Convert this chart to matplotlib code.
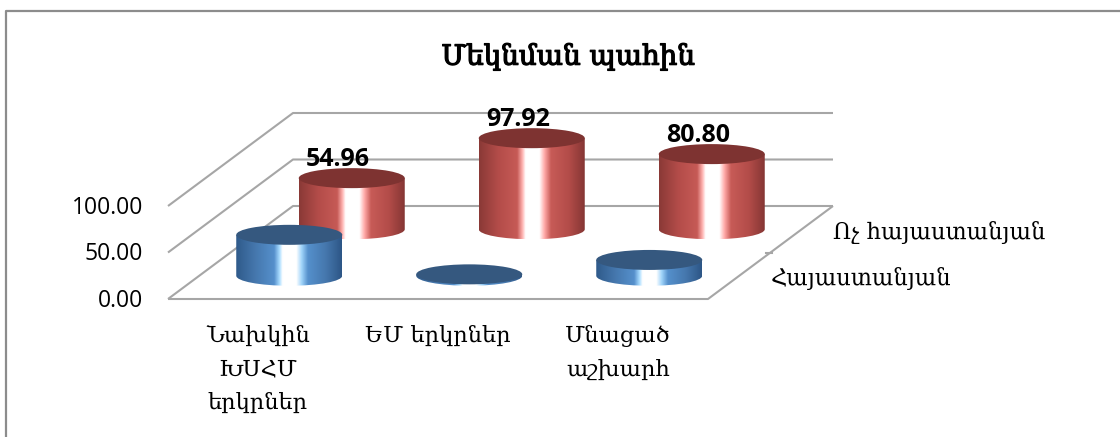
import numpy as np
import matplotlib
matplotlib.use("Agg")
import matplotlib.pyplot as plt
import matplotlib.patheffects as pe
from matplotlib.colors import LinearSegmentedColormap
from matplotlib.patches import Ellipse, PathPatch
from matplotlib.path import Path

title = "Մեկնման պահին"
categories = ["Նախկին\nԽՍՀՄ\nերկրներ", "ԵՄ երկրներ", "Մնացած\nաշխարհ"]
series_names = ["Հայաստանյան", "Ոչ հայաստանյան"]
armenian = [44.0, 1.5, 17.0]
non_armenian = [54.96, 97.92, 80.80]
y_ticks = [0, 50, 100]

ARM_FONT = ["DejaVu Serif", "DejaVu Sans"]
NUM_FONT = "Open Sans"

# oblique projection, all in pixels of the 1120x437 picture
X0, Y0 = 168, 299
CAT_W = 180
DEPTH_X, DEPTH_Y = 125, -93
PX_PER_UNIT = 0.93
R_X, R_Y = 53, 10


def project(cat, depth, value=0):
    return X0 + cat * CAT_W + depth * DEPTH_X, Y0 + depth * DEPTH_Y - value * PX_PER_UNIT


red_cmap = LinearSegmentedColormap.from_list("red3d", [
    (0, "#8a3936"), (0.18, "#b34c49"), (0.36, "#c65a56"), (0.41, "#ffb4b2"), (0.44, "#ffffff"),
    (0.57, "#ffffff"), (0.62, "#ffa8a6"), (0.68, "#c75b57"), (0.85, "#b34c49"), (1, "#853634")])
blue_cmap = LinearSegmentedColormap.from_list("blue3d", [
    (0, "#2f5a8a"), (0.18, "#4577ad"), (0.36, "#5590cc"), (0.41, "#a8dcff"), (0.44, "#ffffff"),
    (0.57, "#ffffff"), (0.62, "#a0d4fa"), (0.68, "#5590cc"), (0.85, "#4577ad"), (1, "#2d5686")])


def cylinder(ax, cat, depth, value, cmap, top_color):
    cx, by = project(cat + 0.5, depth)
    ty = by - value * PX_PER_UNIT
    k = 0.5523
    verts = [(cx - R_X, ty), (cx - R_X, by),
             (cx - R_X, by + R_Y * k), (cx - R_X * k, by + R_Y), (cx, by + R_Y),
             (cx + R_X * k, by + R_Y), (cx + R_X, by + R_Y * k), (cx + R_X, by),
             (cx + R_X, ty), (cx - R_X, ty)]
    codes = [Path.MOVETO, Path.LINETO, Path.CURVE4, Path.CURVE4, Path.CURVE4,
             Path.CURVE4, Path.CURVE4, Path.CURVE4, Path.LINETO, Path.CLOSEPOLY]
    body = PathPatch(Path(verts, codes), fc="none", ec="none", transform=ax.transData)
    ax.add_patch(body)
    grad = np.linspace(0, 1, 256).reshape(1, -1)
    im = ax.imshow(grad, cmap=cmap, extent=(cx - R_X, cx + R_X, by + R_Y, ty), aspect="auto", zorder=3)
    im.set_clip_path(body)
    ax.add_patch(Ellipse((cx, ty), 2 * R_X, 2 * R_Y, fc=top_color, ec="none", zorder=3.1))
    return cx, ty


fig = plt.figure(figsize=(11.2, 4.37), dpi=100)
ax = fig.add_axes([0, 0, 1, 1])

line_kw = dict(color="#a6a6a6", lw=1.5, zorder=1, solid_capstyle="butt")

# back wall, left wall and floor
for v in y_ticks:
    x1, y1 = project(0, 0, v)
    x2, y2 = project(0, 1, v)
    x3, y3 = project(3, 1, v)
    ax.plot([x1, x2, x3], [y1, y2, y3], **line_kw)
    ax.text(x1 - 25, y1 + 2, f"{v:.2f}", ha="right", va="center", fontsize=16.5,
            family=NUM_FONT, color="black")

fx, fy = project(3, 0)
bx, by = project(3, 1)
ax.plot([X0, fx, bx], [Y0, fy, by], **line_kw)
tx, ty = project(3, 0.5)
ax.plot([tx - 5, tx + 1], [ty, ty], color="#a6a6a6", lw=1.5, zorder=1)

for i, v in enumerate(non_armenian):
    cx, ty = cylinder(ax, i, 0.75, v, red_cmap, "#7e3331")
    ax.text(cx - 14, ty - 19, f"{v:.2f}", ha="center", va="center", fontsize=18,
            fontweight="bold", family=NUM_FONT, color="black", zorder=6)
for i, v in enumerate(armenian):
    cylinder(ax, i, 0.25, v, blue_cmap, "#35587f")

for i, name in enumerate(categories):
    x, _ = project(i + 0.5, 0)
    ax.text(x, 325, name, ha="center", va="top", fontsize=16.2, family=ARM_FONT,
            linespacing=1.68, color="black")

for d, name in zip([0.25, 0.75], series_names):
    x, y = project(3, d)
    ax.text(x + 31, y + 3, name, ha="left", va="center", fontsize=16.3, family=ARM_FONT, color="black")

t = ax.text(568, 57, title, ha="center", va="center", fontsize=20, family=ARM_FONT, color="black")
t.set_path_effects([pe.withStroke(linewidth=0.9, foreground="black")])

# outer chart frame, only top and left show
ax.plot([6, 6, 1120], [437, 11, 11], color="#8c8c8c", lw=1.6, zorder=0)

ax.set_xlim(0, 1120)
ax.set_ylim(437, 0)
ax.axis("off")
fig.savefig("out.png", dpi=100)
